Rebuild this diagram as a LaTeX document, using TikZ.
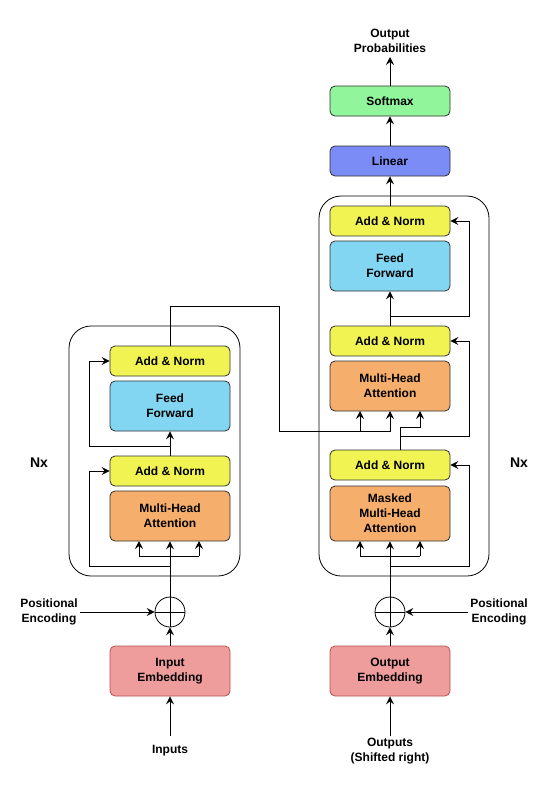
\documentclass[tikz,border=0pt]{standalone}
\usepackage{fontspec}
\setmainfont{Liberation Sans}
\usetikzlibrary{arrows.meta}
\definecolor{cAN}{HTML}{F1F352}
\definecolor{cFF}{HTML}{83D6F2}
\definecolor{cMHA}{HTML}{F5AE6B}
\definecolor{cLin}{HTML}{7B8CF7}
\definecolor{cSoft}{HTML}{91F59B}
\definecolor{cEmb}{HTML}{EE9C9C}
\definecolor{cEmbB}{HTML}{B85450}
\definecolor{cBord}{HTML}{303030}
\begin{document}
\begin{tikzpicture}[x=1pt,y=-1pt,
  font=\fontsize{12}{15}\selectfont\bfseries,
  every node/.style={align=center,inner sep=0pt},
  blk/.style={draw=cBord,line width=0.8pt,rounded corners=5pt,minimum width=120pt,minimum height=30pt},
  tall/.style={blk,minimum height=50pt},
  ln/.style={line width=0.9pt,draw=black},
  arr/.style={ln,-{Stealth[length=8pt,width=8pt,inset=3pt]}},
  adder/.style={draw=black,line width=0.8pt,circle,minimum size=30pt,
    path picture={\draw[line width=0.8pt] (path picture bounding box.north) -- (path picture bounding box.south)
      (path picture bounding box.west) -- (path picture bounding box.east);}},
  txt/.style={},
  nx/.style={font=\fontsize{14}{16}\selectfont\bfseries}
]
\useasboundingbox (0,0) rectangle (559,790);

% outer boxes
\draw[line width=0.8pt,rounded corners=22pt] (69,326) rectangle (240,576);
\draw[line width=0.8pt,rounded corners=22pt] (319,196) rectangle (489,576);

% encoder
\node[blk,fill=cAN] (eAN2) at (170,361) {Add \& Norm};
\node[tall,fill=cFF] (eFF) at (170,406) {Feed\\Forward};
\node[blk,fill=cAN] (eAN1) at (170,471) {Add \& Norm};
\node[tall,fill=cMHA] (eMHA) at (170,516) {Multi-Head\\Attention};

% decoder
\node[blk,fill=cAN] (dAN3) at (390,221) {Add \& Norm};
\node[tall,fill=cFF] (dFF) at (390,266) {Feed\\Forward};
\node[blk,fill=cAN] (dAN2) at (390,341) {Add \& Norm};
\node[tall,fill=cMHA] (dMHA) at (390,386) {Multi-Head\\Attention};
\node[blk,fill=cAN] (dAN1) at (390,465) {Add \& Norm};
\node[tall,fill=cMHA,minimum height=55pt] (dMMHA) at (390,513.5) {Masked\\Multi-Head\\Attention};

\node[blk,fill=cLin] (lin) at (390,161) {Linear};
\node[blk,fill=cSoft] (soft) at (390,101) {Softmax};
\node[txt] (prob) at (390,41) {Output\\Probabilities};
\coordinate (probB) at (390,57);

% embeddings
\node[adder] (eadd) at (170,612) {};
\node[adder] (dadd) at (390,612) {};
\node[tall,fill=cEmb,draw=cEmbB] (eEmb) at (170,671) {Input\\Embedding};
\node[tall,fill=cEmb,draw=cEmbB] (dEmb) at (390,671) {Output\\Embedding};
\node[txt] (inp) at (170,751) {Inputs};
\node[txt] (outp) at (390,751.5) {Outputs\\(Shifted right)};
\node[txt] (peL) at (49,611.5) {Positional\\Encoding};
\node[txt] (peR) at (499,611.5) {Positional\\Encoding};
\node[nx] (nxL) at (39,463) {Nx};
\node[nx] (nxR) at (519,463) {Nx};

% coordinates
\coordinate (inpT) at (170,736);
\coordinate (outpT) at (390,736);

% encoder connections
\draw[arr] (inpT) -- (eEmb.south);
\draw[arr] (eEmb.north) -- (eadd.south);
\draw[arr] (80,612) -- (eadd.west);
\draw[arr] (eadd.north) -- (eMHA.south);
\draw[ln] (139,556) -- (199,556);
\draw[arr] (139,556) -- (139,541);
\draw[arr] (199,556) -- (199,541);
\draw[arr] (170,566) -- (89,566) -- (89,471) -- (eAN1.west);
\draw[arr] (eAN1.north) -- (eFF.south);
\draw[arr] (170,446) -- (89,446) -- (89,361) -- (eAN2.west);
\draw[arr] (eAN2.north) -- (170,306) -- (279,306) -- (279,431) -- (390,431) -- (390,411);
\draw[arr] (360,431) -- (360,411);

% decoder connections
\draw[arr] (outpT) -- (dEmb.south);
\draw[arr] (dEmb.north) -- (dadd.south);
\draw[arr] (468,612) -- (dadd.east);
\draw[arr] (dadd.north) -- (dMMHA.south);
\draw[ln] (360,556) -- (420,556);
\draw[arr] (360,556) -- (360,541);
\draw[arr] (420,556) -- (420,541);
\draw[arr] (390,566) -- (469,566) -- (469,465) -- (dAN1.east);
\draw[arr] (400,450) -- (400,427) -- (420,427) -- (420,411);
\draw[arr] (400,436) -- (469,436) -- (469,341) -- (dAN2.east);
\draw[arr] (dAN2.north) -- (dFF.south);
\draw[arr] (390,316) -- (469,316) -- (469,221) -- (dAN3.east);
\draw[arr] (dAN3.north) -- (lin.south);
\draw[arr] (lin.north) -- (soft.south);
\draw[arr] (soft.north) -- (probB);
\end{tikzpicture}
\end{document}
